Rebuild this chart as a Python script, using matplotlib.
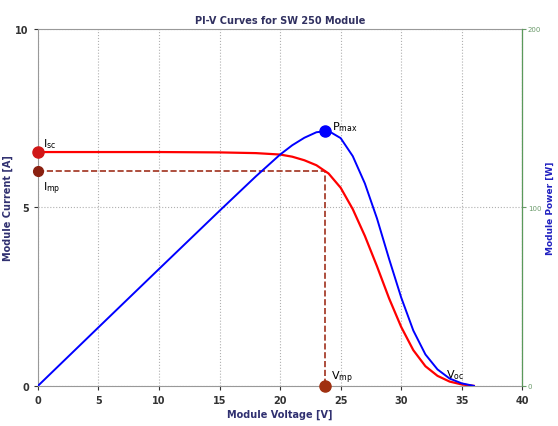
import matplotlib.pyplot as plt

# I-V and P-V data
voltage = [0, 5, 10, 15, 18, 20, 21, 22, 23, 24, 25, 26, 27, 28, 29, 30,
           31, 32, 33, 34, 35, 36]
current = [6.55, 6.55, 6.55, 6.54, 6.52, 6.48, 6.42, 6.32, 6.18, 5.95, 5.55,
           4.95, 4.2, 3.35, 2.45, 1.65, 1.0, 0.55, 0.28, 0.12, 0.04, 0.0]
power = [0, 32.8, 65.5, 98.1, 117.4, 129.6, 134.8, 139.0, 142.1, 142.8,
         138.8, 128.7, 113.4, 93.8, 71.1, 49.5, 31.0, 17.6, 9.2, 4.1, 1.4, 0.0]

i_sc = 6.55
i_mp = 6.02
v_mp = 23.7
p_max = 143.0
v_oc = 36.0

fig = plt.figure(figsize=(5.58, 4.27), dpi=100)
ax = fig.add_axes([0.068, 0.094, 0.868, 0.836])
ax2 = ax.twinx()

ax.plot(voltage, current, color="red", lw=1.6, zorder=3)
ax2.plot(voltage, power, color="blue", lw=1.4, zorder=3)

# max power point construction
ax.plot([0, v_mp, v_mp], [i_mp, i_mp, 0], "--", color="#a0301c", lw=1.2)
ax.plot([0], [i_sc], "o", color="#d01818", ms=8, zorder=5, clip_on=False)
ax.plot([0], [i_mp], "o", color="#8a2010", ms=7, zorder=5, clip_on=False)
ax.plot([v_mp], [0], "o", color="#a03010", ms=8, zorder=5, clip_on=False)
ax2.plot([v_mp], [p_max], "o", color="blue", ms=8, zorder=5)

ax.text(0.4, i_sc + 0.15, "I$_{\\rm sc}$", fontsize=8, color="black")
ax.text(0.4, i_mp - 0.55, "I$_{\\rm mp}$", fontsize=8, color="black")
ax.text(v_mp + 0.5, 0.2, "V$_{\\rm mp}$", fontsize=8, color="black")
ax.text(v_oc - 2.3, 0.25, "V$_{\\rm oc}$", fontsize=8, color="black")
ax2.text(v_mp + 0.6, p_max + 1, "P$_{\\rm max}$", fontsize=8, color="black")

ax.set_xlim(0, 40)
ax.set_ylim(0, 10)
ax2.set_ylim(0, 200)
ax.set_xticks(range(0, 41, 5))
ax.set_yticks([0, 5, 10])
ax2.set_yticks([0, 100, 200])
ax.grid(True, ls=":", color="#b0b0b0", lw=0.8)
ax.tick_params(labelsize=7, colors="#333333", length=3)
for lab in ax.get_xticklabels() + ax.get_yticklabels():
    lab.set_fontweight("bold")
ax2.tick_params(labelsize=5, colors="#6a9a6a", length=3, pad=1)
for s in ["top", "left", "bottom"]:
    ax.spines[s].set_color("#999999")
ax2.spines["right"].set_color("#5a9a5a")
for s in ["top", "left", "bottom"]:
    ax2.spines[s].set_visible(False)

ax.set_title("PI-V Curves for SW 250 Module", fontsize=7, fontweight="bold",
             color="#303060", pad=4)
ax.set_xlabel("Module Voltage [V]", fontsize=7, fontweight="bold", color="#303070",
              labelpad=3)
ax.set_ylabel("Module Current [A]", fontsize=7, fontweight="bold", color="#303070")
ax.yaxis.set_label_coords(-0.052, 0.5)
ax2.set_ylabel("Module Power [W]", fontsize=6.5, fontweight="bold", color="#2020c0")
ax2.yaxis.set_label_coords(1.048, 0.5)

fig.savefig("out.png", dpi=100)
